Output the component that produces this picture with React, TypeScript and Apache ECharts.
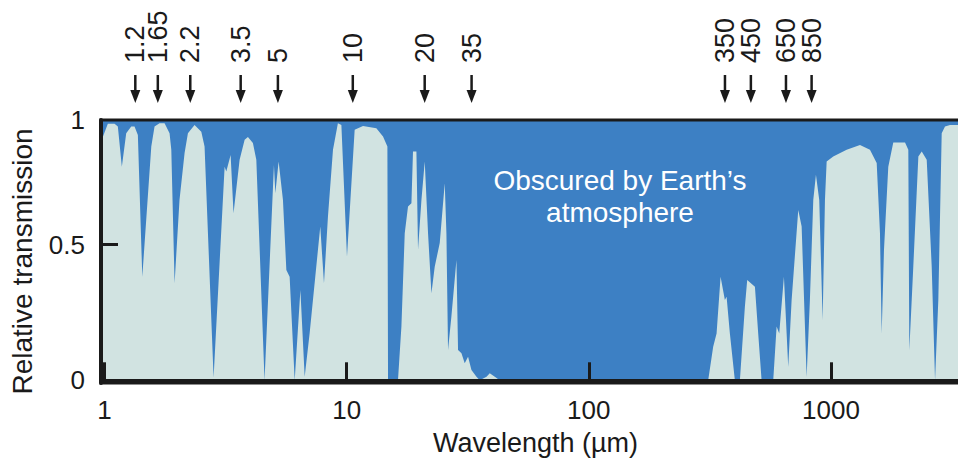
import React, { useEffect, useRef } from "react";
import * as echarts from "echarts";

// Wavelength (µm) and relative transmission
const wavelengthNIR = [0.967, 1.032, 1.1, 1.135, 1.179, 1.229, 1.289, 1.33, 1.373, 1.432, 1.56, 1.609, 1.687, 1.77, 1.856, 1.887, 1.947, 2.04, 2.141, 2.21, 2.354, 2.51, 2.589, 2.821, 3.133, 3.183, 3.317, 3.41, 3.613, 3.79, 3.911, 4.1, 4.235, 4.58, 5.008, 5.075, 5.236, 5.456, 5.635, 5.814, 6.1, 6.44, 6.708, 7.03, 7.78, 8.06, 8.37, 8.78, 9.2, 9.51, 10.03, 10.79, 11.68, 13.26, 14.13, 14.73, 14.82];
const transmissionNIR = [0.88, 0.946, 0.946, 0.936, 0.788, 0.911, 0.936, 0.936, 0.905, 0.382, 0.862, 0.936, 0.948, 0.948, 0.911, 0.85, 0.358, 0.665, 0.838, 0.911, 0.942, 0.917, 0.862, 0.01, 0.788, 0.77, 0.831, 0.616, 0.813, 0.887, 0.897, 0.875, 0.813, 0, 0.794, 0.69, 0.807, 0.665, 0.407, 0.382, 0, 0.333, 0.013, 0.173, 0.567, 0.358, 0.604, 0.85, 0.948, 0.942, 0.456, 0.924, 0.938, 0.93, 0.899, 0.862, 0];

const wavelengthMIR = [16.29, 16.83, 17.37, 17.92, 18.51, 18.79, 19.41, 19.71, 20.36, 21.01, 21.68, 22.39, 23.1, 24.23, 25.41, 25.82, 26.22, 27.07, 28.4, 28.84, 29.79, 30.73, 31.72, 32.76, 34.36, 35.44, 37.8, 38.99, 40.9, 42.87];
const transmissionMIR = [0, 0.198, 0.542, 0.641, 0.653, 0.844, 0.844, 0.481, 0.665, 0.807, 0.542, 0.321, 0.419, 0.506, 0.727, 0.542, 0.112, 0.235, 0.444, 0.112, 0.1, 0.063, 0.087, 0.038, 0.013, 0, 0.013, 0.026, 0.013, 0];

const wavelengthSubmm = [311.2, 326.3, 337, 350.1, 364.7, 370.7, 382.5, 401, 420.7, 441.2, 451, 485.3, 500.7, 517.1, 577.6, 596.5, 611.5, 639.4, 656.1, 666.2, 688, 732.8, 756.8, 793.5, 818.6, 845.3, 867, 894.7, 924, 944.6, 960, 1022, 1161, 1318, 1449, 1545, 1594, 1620, 1656, 1725, 1809, 2023, 2087, 2107, 2188, 2296, 2371, 2486, 2607, 2691, 2776, 2867, 2958, 3102, 3348, 3752];
const transmissionSubmm = [0, 0.124, 0.173, 0.382, 0.296, 0.308, 0.173, 0, 0, 0.272, 0.37, 0.345, 0.173, 0, 0, 0.198, 0.173, 0.382, 0.173, 0.05, 0.296, 0.628, 0.567, 0.013, 0.296, 0.665, 0.758, 0.665, 0.222, 0.665, 0.807, 0.825, 0.85, 0.868, 0.85, 0.801, 0.542, 0.173, 0.481, 0.788, 0.877, 0.877, 0.85, 0.112, 0.419, 0.825, 0.844, 0.813, 0.419, 0, 0.296, 0.911, 0.936, 0.942, 0.942, 0.942];

// Window markers (arrows) above the plot
const windowLabels = ["1.2", "1.65", "2.2", "3.5", "5", "10", "20", "35", "350", "450", "650", "850"];
const windowPositions = [1.34, 1.66, 2.26, 3.65, 5.2, 10.6, 21, 32.8, 365, 467, 652, 832];

const xTicks = [1, 10, 100, 1000];
const yTicks = [0, 0.5];
const yTopLabel = 0.96;

const FONT = "'Liberation Sans', Arial, Helvetica, sans-serif";
const BLUE = "#3d80c4";
const LIGHT = "#d1e3e1";
const INK = "#1a1a1a";

export default function App() {
  const ref = useRef<HTMLDivElement>(null);
  useEffect(() => {
    if (!ref.current) return;
    document.body.style.margin = "0";
    document.body.style.overflow = "hidden";
    const chart = echarts.init(ref.current, null, { renderer: "svg" });
    const wl = [...wavelengthNIR, ...wavelengthMIR, ...wavelengthSubmm];
    const tr = [...transmissionNIR, ...transmissionMIR, ...transmissionSubmm];
    const areaData = wl.map((w, i) => [w, tr[i]]);
    const arrowData = windowPositions.map((p) => [p, yTopLabel]);

    chart.setOption({
      animation: false,
      textStyle: { fontFamily: FONT },
      grid: {
        left: 101,
        top: 120,
        bottom: 76,
        right: 0,
        outerBoundsMode: "none",
        containLabel: false,
        show: true,
        backgroundColor: BLUE,
        borderColor: INK,
        borderWidth: 3,
      },
      xAxis: {
        type: "log",
        logBase: 10,
        min: 0.967,
        max: 3752,
        z: 10,
        name: "Wavelength (\u00b5m)",
        nameLocation: "middle",
        nameGap: 46,
        nameTextStyle: { fontSize: 27, color: INK, fontFamily: FONT },
        axisLine: { lineStyle: { color: INK, width: 4 } },
        axisTick: {
          inside: true,
          length: 18,
          customValues: xTicks,
          lineStyle: { color: INK, width: 3 },
        },
        axisLabel: {
          customValues: xTicks,
          margin: 14,
          fontSize: 26,
          color: INK,
          fontFamily: FONT,
          formatter: (v: number) => String(Math.round(v)),
        },
        splitLine: { show: false },
        minorTick: { show: false },
      },
      yAxis: {
        type: "value",
        min: -0.01,
        max: yTopLabel,
        z: 10,
        name: "Relative transmission",
        nameLocation: "middle",
        nameGap: 65,
        nameTextStyle: { fontSize: 28, color: INK, fontFamily: FONT, padding: [0, 20, 0, 0] },
        axisLine: { show: true, lineStyle: { color: INK, width: 4 } },
        axisTick: {
          show: true,
          inside: true,
          length: 17,
          customValues: [0.5],
          lineStyle: { color: INK, width: 3 },
        },
        axisLabel: {
          customValues: [...yTicks, yTopLabel],
          margin: 16,
          fontSize: 26,
          color: INK,
          fontFamily: FONT,
          formatter: (v: number) => (v > 0.9 ? "1" : String(v)),
        },
        splitLine: { show: false },
      },
      graphic: [
        {
          type: "text",
          x: 620,
          y: 196,
          z: 10,
          style: {
            text: "Obscured by Earth\u2019s\natmosphere",
            fill: "#ffffff",
            font: `28px ${FONT}`,
            align: "center",
            verticalAlign: "middle",
            lineHeight: 32,
          },
        },
      ],
      series: [
        {
          type: "line",
          data: areaData,
          showSymbol: false,
          symbol: "none",
          lineStyle: { width: 0 },
          areaStyle: { color: LIGHT, opacity: 1 },
          silent: true,
          z: 2,
        },
        {
          type: "custom",
          clip: false,
          data: arrowData,
          renderItem: (params: any, api: any) => {
            const x = api.coord([api.value(0), api.value(1)])[0];
            const top = params.coordSys.y;
            return {
              type: "group",
              children: [
                {
                  type: "line",
                  shape: { x1: x, y1: top - 45, x2: x, y2: top - 27 },
                  style: { stroke: INK, lineWidth: 2.5 },
                },
                {
                  type: "polygon",
                  shape: { points: [[x - 5, top - 30], [x + 5, top - 30], [x, top - 17]] },
                  style: { fill: INK },
                },
                {
                  type: "text",
                  x: x,
                  y: top - 57,
                  rotation: Math.PI / 2,
                  style: {
                    text: windowLabels[params.dataIndex],
                    fill: INK,
                    font: `27px ${FONT}`,
                    align: "left",
                    verticalAlign: "middle",
                  },
                },
              ],
            };
          },
        },
      ],
    });
    return () => chart.dispose();
  }, []);
  return (
    <div
      ref={ref}
      style={{ position: "fixed", left: 0, top: 0, width: 970, height: 459, background: "#fff" }}
    />
  );
}
